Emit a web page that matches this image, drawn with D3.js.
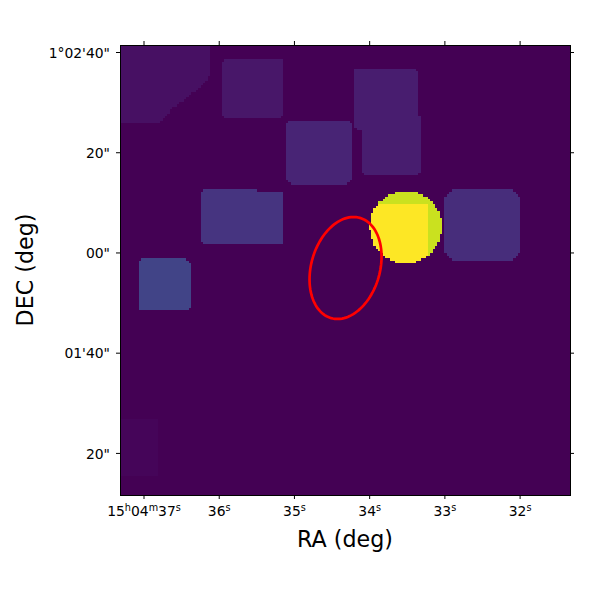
<!DOCTYPE html>
<html>
<head>
<meta charset="utf-8">
<script src="https://cdn.jsdelivr.net/npm/d3@7"></script>
<style>
  html, body { margin: 0; padding: 0; background: #fff; }
  text { font-family: "DejaVu Sans", sans-serif; fill: #000; }
</style>
</head>
<body>
<div id="chart"></div>
<script>
// sky axes: RA in seconds of time past 15h04m, Dec in arcsec past 1 deg 00'
var raDomain = [37.3125, 31.33];
var decDomain = [161.4, 71.6];
var raTicks = [37, 36, 35, 34, 33, 32];
var raTickLabels = [
  [["15", "h"], ["04", "m"], ["37", "s"]],
  [["36", "s"]], [["35", "s"]], [["34", "s"]], [["33", "s"]], [["32", "s"]]
];
var decTicks = [160, 140, 120, 100, 80];
var decTickLabels = ["1°02'40\"", "20\"", "00\"", "01'40\"", "20\""];

// exposure patches
var patchRaLeft  = [35.956, 34.207, 34.114, 35.112, 36.229, 35.477, 37.076, 32.997, 37.4];
var patchRaRight = [35.138, 33.356, 33.299, 34.234, 35.477, 35.145, 36.379, 32.0, 36.805];
var patchDecTop  = [158.7, 156.81, 147.82, 146.43, 132.79, 132.31, 118.68, 132.79, 86.55];
var patchDecBot  = [146.83, 144.53, 135.45, 133.75, 121.48, 121.48, 108.3, 118.28, 75.23];
var patchCut     = [0.6, 0.6, 1.0, 0.9, 0.5, 0.5, 0.6, 1.7, 0.1];
var patchValue   = [0.06, 0.08, 0.08, 0.1, 0.15, 0.15, 0.2, 0.125, 0.015];

// big patch cut off in the top left corner
var cornerPatch = [[37.4, 162], [36.109, 162], [36.109, 155.41], [36.255, 153.01],
  [36.428, 150.82], [36.628, 148.62], [36.787, 145.73], [37.4, 145.73]];
var cornerValue = 0.04;

// bright source
var sourceRa = 33.513, sourceDec = 125.07, sourceRadius = 7.2;
var sourceValue = 0.92;
var coreRaRight = 33.21, coreDecTop = 129.66;
var coreValue = 1;

// red region
var ellipseRa = 34.314, ellipseDec = 116.9;
var ellipseMajor = 10.4, ellipseMinor = 6.85, ellipseTilt = 16;

var nCells = 190;
var size = 600;
var left = 120, right = 570, top_ = 45, bottom = 495;

var svg = d3.select("#chart").append("svg")
  .attr("width", size)
  .attr("height", size)
  .style("display", "block");

var x = d3.scaleLinear().domain(raDomain).range([left, right]);
var y = d3.scaleLinear().domain(decDomain).range([top_, bottom]);
var color = d3.scaleSequential(d3.interpolateViridis).domain([0, 1]);
var cell = d3.scaleLinear().domain([0, nCells]);

var patchPolygon = function(i) {
  var l = patchRaLeft[i] * 15, r = patchRaRight[i] * 15;
  var t = patchDecTop[i], b = patchDecBot[i], c = patchCut[i];
  return [[l - c, t], [r + c, t], [r, t - c], [r, b + c], [r + c, b], [l - c, b], [l, b + c], [l, t - c]];
};
var patches = patchValue.map(function(v, i) { return { poly: patchPolygon(i), value: v }; });
patches.push({ poly: cornerPatch.map(function(p) { return [p[0] * 15, p[1]]; }), value: cornerValue });

var valueAt = function(ra, dec) {
  var dx = (ra - sourceRa) * 15, dy = dec - sourceDec;
  if (dx * dx + dy * dy <= sourceRadius * sourceRadius) {
    return (ra >= coreRaRight && dec <= coreDecTop) ? coreValue : sourceValue;
  }
  var v = 0;
  patches.forEach(function(p) {
    if (d3.polygonContains(p.poly, [ra * 15, dec])) v = Math.max(v, p.value);
  });
  return v;
};

var cellX = cell.copy().range([left, right]);
var cellY = cell.copy().range([top_, bottom]);

// rasterise to the image grid, merging runs along each row
var runs = [];
d3.range(nCells).forEach(function(row) {
  var dec = y.invert(cellY(row + 0.5));
  var start = 0, cur = valueAt(x.invert(cellX(0.5)), dec);
  d3.range(1, nCells + 1).forEach(function(col) {
    var v = col < nCells ? valueAt(x.invert(cellX(col + 0.5)), dec) : null;
    if (v !== cur) {
      runs.push({ row: row, start: start, end: col, value: cur });
      start = col;
      cur = v;
    }
  });
});

svg.append("g")
  .attr("shape-rendering", "crispEdges")
  .selectAll("rect")
  .data(runs)
  .enter()
  .append("rect")
    .attr("x", function(d) { return cellX(d.start); })
    .attr("y", function(d) { return cellY(d.row); })
    .attr("width", function(d) { return cellX(d.end) - cellX(d.start); })
    .attr("height", function(d) { return cellY(d.row + 1) - cellY(d.row) + 0.5; })
    .style("fill", function(d) { return color(d.value); });

// ellipse outline
var tilt = ellipseTilt * Math.PI / 180;
var ellipsePoints = d3.range(0, 361, 3).map(function(deg) {
  var t = deg * Math.PI / 180;
  var east = ellipseMajor * Math.cos(t) * Math.sin(tilt) + ellipseMinor * Math.sin(t) * Math.cos(tilt);
  var north = ellipseMajor * Math.cos(t) * Math.cos(tilt) - ellipseMinor * Math.sin(t) * Math.sin(tilt);
  return [ellipseRa - east / 15, ellipseDec + north];
});
svg.append("path")
  .attr("d", d3.line()
    .x(function(d) { return x(d[0]); })
    .y(function(d) { return y(d[1]); })(ellipsePoints))
  .style("fill", "none")
  .style("stroke", "red")
  .style("stroke-width", 2.7);

// axes on all four sides, labels on bottom and left only
var styleAxis = function(g) {
  g.selectAll("path").remove();
  g.selectAll("line").attr("stroke", "#000").attr("stroke-width", 1);
};
var dropLabels = function(g) { g.selectAll("text").remove(); };
svg.append("g").attr("transform", "translate(0," + top_ + ")")
  .call(d3.axisTop(x).tickValues(raTicks).tickSize(4))
  .call(styleAxis).call(dropLabels);
svg.append("g").attr("transform", "translate(" + right + ",0)")
  .call(d3.axisRight(y).tickValues(decTicks).tickSize(4))
  .call(styleAxis).call(dropLabels);

var xAxis = svg.append("g").attr("transform", "translate(0," + bottom + ")")
  .call(d3.axisBottom(x).tickValues(raTicks).tickSize(4).tickFormat(""))
  .call(styleAxis);
xAxis.selectAll(".tick text").each(function(d, i) {
  var t = d3.select(this).attr("y", 21).attr("dy", null).attr("font-size", 13.9).attr("font-family", null);
  raTickLabels[i].forEach(function(part, j) {
    t.append("tspan").attr("font-size", 13.9).attr("dy", j ? 5 : 0).text(part[0]);
    t.append("tspan").attr("font-size", 9.7).attr("dy", -5).text(part[1]);
  });
});

var yAxis = svg.append("g").attr("transform", "translate(" + left + ",0)")
  .call(d3.axisLeft(y).tickValues(decTicks).tickSize(4)
    .tickFormat(function(d, i) { return decTickLabels[i]; }))
  .call(styleAxis);
yAxis.selectAll(".tick text").attr("font-size", 13.9).attr("font-family", null).attr("x", -10).attr("dy", "0.38em");

// frame sits on pixel centres so it stays one pixel wide
svg.append("rect")
  .attr("x", left + 0.5).attr("y", top_ + 0.5)
  .attr("width", right - left).attr("height", bottom - top_)
  .style("fill", "none").style("stroke", "#000").style("stroke-width", 1);

svg.append("text")
  .attr("x", (left + right) / 2).attr("y", 547)
  .attr("text-anchor", "middle")
  .attr("font-size", 22.2)
  .text("RA (deg)");
svg.append("text")
  .attr("transform", "translate(33,270) rotate(-90)")
  .attr("text-anchor", "middle")
  .attr("font-size", 22.2)
  .text("DEC (deg)");
</script>
</body>
</html>
